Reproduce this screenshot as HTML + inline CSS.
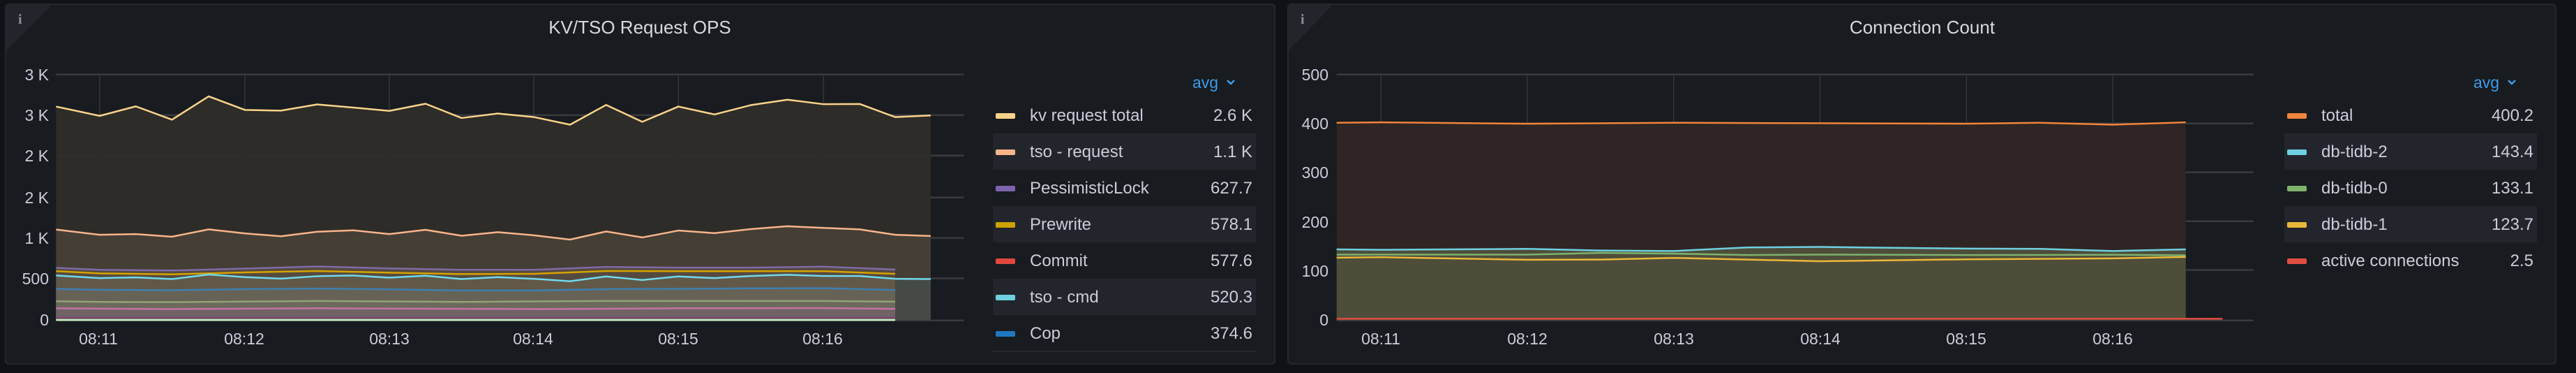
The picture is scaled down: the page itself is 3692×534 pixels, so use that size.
<!DOCTYPE html>
<html><head><meta charset="utf-8"><style>
html,body{margin:0;padding:0;background:#111217;}
svg{display:block;font-family:"Liberation Sans",sans-serif;}
.ln{fill:none;vector-effect:non-scaling-stroke;stroke-width:2.5;stroke-linejoin:round}
.g{stroke:#3a3b3f;stroke-width:2.5;vector-effect:non-scaling-stroke}
.gv{stroke:#34363b;stroke-width:1.5;vector-effect:non-scaling-stroke}
.tk{fill:#ccccdc;font-size:23px}
.lg{fill:#ccccdc;font-size:24px}
</style></head><body>
<svg width="3692" height="534" viewBox="0 0 3692 534">
<rect width="3692" height="534" fill="#111217"/>
<!-- panels -->
<rect x="8" y="6" width="1819" height="515" rx="5" fill="#181b1f" stroke="#25272c" stroke-width="2"/>
<rect x="1846" y="6" width="1817" height="515" rx="5" fill="#181b1f" stroke="#25272c" stroke-width="2"/>
<polygon points="9,7 74,7 9,72" fill="#22252b"/>
<polygon points="1847,7 1910,7 1847,72" fill="#22252b"/>
<text x="26" y="34" font-size="20" font-weight="bold" fill="#8e8e9a" font-family="Liberation Serif">i</text>
<text x="1864" y="34" font-size="20" font-weight="bold" fill="#8e8e9a" font-family="Liberation Serif">i</text>
<text x="917" y="48" text-anchor="middle" fill="#d8d9e0" font-size="26">KV/TSO Request OPS</text>
<text x="2755" y="48" text-anchor="middle" fill="#d8d9e0" font-size="26">Connection Count</text>

<!-- LEFT PLOT in zoom coords -->
<g transform="scale(0.892857,0.340599)">
  <g>
    <line class="g" x1="90" y1="313" x2="1547" y2="313"/><line class="g" x1="90" y1="484" x2="1547" y2="484"/>
    <line class="g" x1="90" y1="654" x2="1547" y2="654"/><line class="g" x1="90" y1="830" x2="1547" y2="830"/>
    <line class="g" x1="90" y1="1000" x2="1547" y2="1000"/><line class="g" x1="90" y1="1170" x2="1547" y2="1170"/>
    <line class="g" x1="90" y1="1347" x2="1547" y2="1347"/>
    <line class="gv" x1="160" y1="313" x2="160" y2="1347"/><line class="gv" x1="393" y1="313" x2="393" y2="1347"/>
    <line class="gv" x1="625" y1="313" x2="625" y2="1347"/><line class="gv" x1="857" y1="313" x2="857" y2="1347"/>
    <line class="gv" x1="1089" y1="313" x2="1089" y2="1347"/><line class="gv" x1="1322" y1="313" x2="1322" y2="1347"/>
  </g>
  <polygon fill="#2f2d29" opacity="0.95" points="90,1345 90,448 160,487 218,447 276,503 335,405 393,462 451,465 509,439 567,452 625,466 683,436 741,496 799,477 857,492 915,524 973,441 1031,512 1089,448 1147,481 1205,442 1264,419 1322,438 1380,437 1437,492 1494,485 1494,1345"/>
  <polygon fill="#443e35" points="90,1345 90,965 160,987 218,984 276,995 335,964 393,981 451,993 509,974 567,968 625,984 683,966 741,991 799,976 857,989 915,1007 973,973 1031,998 1089,969 1147,980 1205,963 1264,951 1322,958 1380,964 1437,987 1494,992 1494,1345"/>
  <polygon fill="#554a3f" points="90,1345 90,1126 160,1134 276,1137 393,1129 509,1120 625,1128 741,1134 857,1134 973,1122 1089,1125 1205,1125 1322,1121 1437,1133 1437,1345"/>
  <polygon fill="#625848" points="90,1345 90,1158 160,1169 218,1166 276,1173 335,1154 393,1165 451,1171 509,1161 567,1158 625,1167 683,1159 741,1173 799,1165 857,1172 915,1182 973,1162 1031,1177 1089,1162 1147,1169 1205,1160 1264,1155 1322,1160 1380,1160 1437,1172 1437,1345"/>
  <polygon fill="#454a45" points="1437,1345 1437,1172 1494,1173 1494,1345"/>
  <polygon fill="#676256" points="90,1345 90,1214 160,1218 276,1220 393,1215 509,1213 625,1216 741,1221 857,1221 973,1215 1089,1214 1205,1212 1322,1211 1437,1219 1437,1345"/>
  <polygon fill="#6b685c" points="90,1345 90,1266 160,1269 276,1270 509,1265 741,1269 973,1265 1322,1265 1437,1268 1437,1345"/>
  <polygon fill="#6f6364" points="90,1345 90,1296 276,1299 509,1296 857,1299 1089,1296 1322,1295 1437,1298 1437,1345"/>
  <polyline class="ln" stroke="#fad38a" points="90,448 160,487 218,447 276,503 335,405 393,462 451,465 509,439 567,452 625,466 683,436 741,496 799,477 857,492 915,524 973,441 1031,512 1089,448 1147,481 1205,442 1264,419 1322,438 1380,437 1437,492 1494,485"/>
  <polyline class="ln" stroke="#f8b48a" points="90,965 160,987 218,984 276,995 335,964 393,981 451,993 509,974 567,968 625,984 683,966 741,991 799,976 857,989 915,1007 973,973 1031,998 1089,969 1147,980 1205,963 1264,951 1322,958 1380,964 1437,987 1494,992"/>
  <polyline class="ln" stroke="#806aa8" points="90,1126 160,1134 276,1137 393,1129 509,1120 625,1128 741,1134 857,1134 973,1122 1089,1125 1205,1125 1322,1121 1437,1133"/>
  <polyline class="ln" stroke="#d6a300" points="90,1140 160,1149 276,1153 393,1145 509,1139 625,1146 741,1152 857,1151 973,1139 1089,1140 1205,1140 1322,1140 1437,1151"/>
  <polyline class="ln" stroke="#71d9ec" points="90,1158 160,1169 218,1166 276,1173 335,1154 393,1165 451,1171 509,1161 567,1158 625,1167 683,1159 741,1173 799,1165 857,1172 915,1182 973,1162 1031,1177 1089,1162 1147,1169 1205,1160 1264,1155 1322,1160 1380,1160 1437,1172 1494,1173"/>
  <polyline class="ln" stroke="#3e7fb0" points="90,1214 160,1218 276,1220 393,1215 509,1213 625,1216 741,1221 857,1221 973,1215 1089,1214 1205,1212 1322,1211 1437,1219"/>
  <polyline class="ln" stroke="#8fa475" points="90,1266 160,1269 276,1270 509,1265 741,1269 973,1265 1322,1265 1437,1268"/>
  <polyline class="ln" stroke="#c572a6" points="90,1296 276,1299 509,1296 857,1299 1089,1296 1322,1295 1437,1298"/>
  <polyline class="ln" stroke="#7b4b74" points="90,1335 1437,1335"/>
  <polyline class="ln" stroke="#c8f2c2" points="90,1345 1437,1345"/>
</g>
<g class="tk" text-anchor="end">
  <text x="70" y="115">3 K</text><text x="70" y="173">3 K</text><text x="70" y="231">2 K</text>
  <text x="70" y="291">2 K</text><text x="70" y="349">1 K</text><text x="70" y="407">500</text><text x="70" y="466">0</text>
</g>
<g class="tk" text-anchor="middle">
  <text x="141" y="493">08:11</text><text x="350" y="493">08:12</text><text x="558" y="493">08:13</text>
  <text x="764" y="493">08:14</text><text x="972" y="493">08:15</text><text x="1179" y="493">08:16</text>
</g>
<!-- left legend -->
<text x="1709" y="126" fill="#3d9ce8" font-size="23">avg</text>
<polyline points="1759,115 1764,120 1769,115" fill="none" stroke="#3d9ce8" stroke-width="2.5"/>
<rect x="1423" y="191" width="377" height="52" fill="#22252b"/>
<rect x="1423" y="295" width="377" height="52" fill="#22252b"/>
<rect x="1423" y="399" width="377" height="52" fill="#22252b"/>
<line x1="1423" y1="503" x2="1800" y2="503" stroke="#2a2c31" stroke-width="1.5"/>
<g class="lg">
  <rect x="1427" y="162" width="28" height="8" rx="2" fill="#fad38a"/><text x="1476" y="173">kv request total</text><text x="1795" y="173" text-anchor="end">2.6 K</text>
  <rect x="1427" y="214" width="28" height="8" rx="2" fill="#f8b48a"/><text x="1476" y="225">tso - request</text><text x="1795" y="225" text-anchor="end">1.1 K</text>
  <rect x="1427" y="266" width="28" height="8" rx="2" fill="#7e63ad"/><text x="1476" y="277">PessimisticLock</text><text x="1795" y="277" text-anchor="end">627.7</text>
  <rect x="1427" y="318" width="28" height="8" rx="2" fill="#cca300"/><text x="1476" y="329">Prewrite</text><text x="1795" y="329" text-anchor="end">578.1</text>
  <rect x="1427" y="370" width="28" height="8" rx="2" fill="#e0483f"/><text x="1476" y="381">Commit</text><text x="1795" y="381" text-anchor="end">577.6</text>
  <rect x="1427" y="422" width="28" height="8" rx="2" fill="#6ed0e0"/><text x="1476" y="433">tso - cmd</text><text x="1795" y="433" text-anchor="end">520.3</text>
  <rect x="1427" y="474" width="28" height="8" rx="2" fill="#1f78c1"/><text x="1476" y="485">Cop</text><text x="1795" y="485" text-anchor="end">374.6</text>
</g>

<!-- RIGHT PLOT -->
<g transform="translate(1830,0) scale(0.892857,0.340599)">
  <line class="g" x1="96" y1="313" x2="1568" y2="313"/><line class="g" x1="96" y1="519" x2="1568" y2="519"/>
  <line class="g" x1="96" y1="724" x2="1568" y2="724"/><line class="g" x1="96" y1="930" x2="1568" y2="930"/>
  <line class="g" x1="96" y1="1135" x2="1568" y2="1135"/><line class="g" x1="96" y1="1347" x2="1568" y2="1347"/>
  <line class="gv" x1="167" y1="313" x2="167" y2="1347"/><line class="gv" x1="402" y1="313" x2="402" y2="1347"/>
  <line class="gv" x1="637" y1="313" x2="637" y2="1347"/><line class="gv" x1="872" y1="313" x2="872" y2="1347"/>
  <line class="gv" x1="1107" y1="313" x2="1107" y2="1347"/><line class="gv" x1="1342" y1="313" x2="1342" y2="1347"/>
  <polygon fill="#2e2524" points="96,1345 96,516 167,514 402,520 637,516 872,518 1107,520 1225,516 1342,524 1459,514 1459,1345"/>
  <polygon fill="#4d4d3a" points="96,1345 96,1048 167,1050 402,1046 637,1055 755,1040 872,1038 1107,1045 1225,1046 1342,1055 1459,1048 1459,1345"/>
  <polyline class="ln" stroke="#f2833a" points="96,516 167,514 402,520 637,516 872,518 1107,520 1225,516 1342,524 1459,514"/>
  <polyline class="ln" stroke="#6ed0e0" points="96,1048 167,1050 402,1046 520,1053 637,1055 755,1040 872,1038 1107,1045 1225,1046 1342,1055 1459,1048"/>
  <polyline class="ln" stroke="#7eb26d" points="96,1070 402,1070 520,1063 637,1066 755,1072 872,1070 1107,1072 1342,1071 1459,1073"/>
  <polyline class="ln" stroke="#eab839" points="96,1083 167,1081 402,1092 520,1091 637,1084 872,1098 1107,1090 1342,1086 1459,1080"/>
  <polyline class="ln" stroke="#e24d42" stroke-width="4" points="96,1340 1518,1340"/>
</g>
<g class="tk" text-anchor="end">
  <text x="1904" y="115">500</text><text x="1904" y="185">400</text><text x="1904" y="255">300</text>
  <text x="1904" y="326">200</text><text x="1904" y="396">100</text><text x="1904" y="466">0</text>
</g>
<g class="tk" text-anchor="middle">
  <text x="1979" y="493">08:11</text><text x="2189" y="493">08:12</text><text x="2399" y="493">08:13</text>
  <text x="2609" y="493">08:14</text><text x="2818" y="493">08:15</text><text x="3028" y="493">08:16</text>
</g>
<text x="3545" y="126" fill="#3d9ce8" font-size="23">avg</text>
<polyline points="3595,115 3600,120 3605,115" fill="none" stroke="#3d9ce8" stroke-width="2.5"/>
<rect x="3274" y="191" width="362" height="52" fill="#22252b"/>
<rect x="3274" y="295" width="362" height="52" fill="#22252b"/>
<g class="lg">
  <rect x="3278" y="162" width="28" height="8" rx="2" fill="#ef843c"/><text x="3327" y="173">total</text><text x="3631" y="173" text-anchor="end">400.2</text>
  <rect x="3278" y="214" width="28" height="8" rx="2" fill="#6ed0e0"/><text x="3327" y="225">db-tidb-2</text><text x="3631" y="225" text-anchor="end">143.4</text>
  <rect x="3278" y="266" width="28" height="8" rx="2" fill="#7eb26d"/><text x="3327" y="277">db-tidb-0</text><text x="3631" y="277" text-anchor="end">133.1</text>
  <rect x="3278" y="318" width="28" height="8" rx="2" fill="#eab839"/><text x="3327" y="329">db-tidb-1</text><text x="3631" y="329" text-anchor="end">123.7</text>
  <rect x="3278" y="370" width="28" height="8" rx="2" fill="#e24d42"/><text x="3327" y="381">active connections</text><text x="3631" y="381" text-anchor="end">2.5</text>
</g>
</svg>
</body></html>
